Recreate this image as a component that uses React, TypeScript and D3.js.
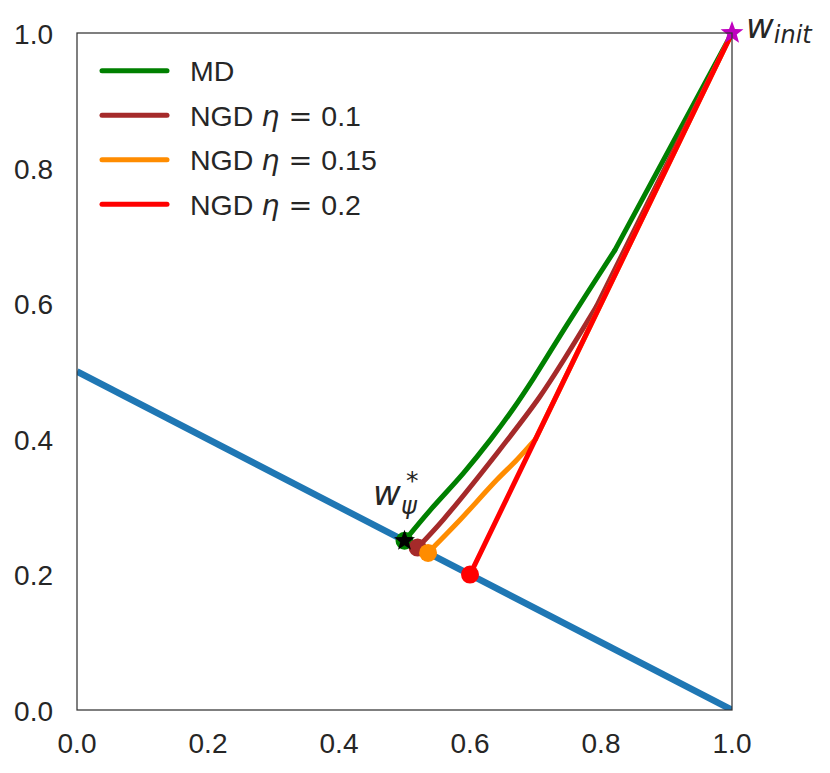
import React from "react";
import * as d3 from "d3";

type P = [number, number];

const xTicks = [0, 0.2, 0.4, 0.6, 0.8, 1.0];
const yTicks = [0, 0.2, 0.4, 0.6, 0.8, 1.0];

const constraintLine: P[] = [[0, 0.5], [1, 0]];

const mdPath: P[] = [[1, 1], [0.821, 0.679], [0.748, 0.569], [0.697, 0.49], [0.666, 0.445], [0.631, 0.399], [0.59, 0.35], [0.539, 0.295], [0.5, 0.25]];
const ngd01Path: P[] = [[1, 1], [0.793, 0.596], [0.745, 0.52], [0.706, 0.462], [0.641, 0.379], [0.559, 0.281], [0.52, 0.24]];
const ngd015Path: P[] = [[1, 1], [0.7, 0.4], [0.672, 0.37], [0.641, 0.34], [0.585, 0.281], [0.554, 0.25], [0.536, 0.232]];
const ngd02Path: P[] = [[1, 1], [0.6, 0.2]];

const seriesNames = ["MD", "NGD η = 0.1", "NGD η = 0.15", "NGD η = 0.2"];
const etaValues = ["", "0.1", "0.15", "0.2"];
const seriesColors = ["#008000", "#a52a2a", "#ff8c00", "#ff0000"];
const seriesPaths = [mdPath, ngd01Path, ngd015Path, ngd02Path];

const wStar: P = [0.5, 0.25];
const wInit: P = [1, 1];

const W = 830, H = 773;
const L = 77, R = 732, T = 33, B = 710;

function starPath(cx: number, cy: number, rOut: number, rIn: number) {
  const pts: string[] = [];
  for (let i = 0; i < 10; i++) {
    const a = -Math.PI / 2 + (i * Math.PI) / 5;
    const r = i % 2 === 0 ? rOut : rIn;
    pts.push(`${cx + r * Math.cos(a)},${cy + r * Math.sin(a)}`);
  }
  return "M" + pts.join("L") + "Z";
}

export default function App() {
  const x = d3.scaleLinear().domain([0, 1]).range([L, R]);
  const y = d3.scaleLinear().domain([0, 1]).range([B, T]);
  const line = d3.line<P>().x((d) => x(d[0])).y((d) => y(d[1]));
  const smooth = d3.line<P>().x((d) => x(d[0])).y((d) => y(d[1])).curve(d3.curveCatmullRom.alpha(0.5));
  const tickFont = "'Liberation Sans', Arial, sans-serif";
  const mathFont = "'DejaVu Sans', sans-serif";
  const txt = "#262626";

  return (
    <svg width={W} height={H} style={{ position: "absolute", left: 0, top: 0 }}>
      <rect x={0} y={0} width={W} height={H} fill="#fff" />
      <defs>
        <clipPath id="clip">
          <rect x={L} y={T} width={R - L} height={B - T} />
        </clipPath>
      </defs>
      <g clipPath="url(#clip)">
        <path d={line(constraintLine) || ""} stroke="#1f77b4" strokeWidth={6.5} fill="none" />
      </g>
      {seriesPaths.map((p, i) => (
        <g key={i} stroke={seriesColors[i]} strokeWidth={5} fill="none" strokeLinecap="round" strokeLinejoin="round">
          <path d={line(p.slice(0, 2)) || ""} />
          {p.length > 2 && <path d={smooth(p.slice(1)) || ""} />}
        </g>
      ))}
      {/* end markers */}
      <circle cx={x(mdPath[mdPath.length - 1][0])} cy={y(mdPath[mdPath.length - 1][1])} r={9} fill={seriesColors[0]} />
      <circle cx={x(ngd01Path[ngd01Path.length - 1][0])} cy={y(ngd01Path[ngd01Path.length - 1][1])} r={9} fill={seriesColors[1]} />
      <circle cx={x(ngd015Path[ngd015Path.length - 1][0])} cy={y(ngd015Path[ngd015Path.length - 1][1])} r={9} fill={seriesColors[2]} />
      <circle cx={x(ngd02Path[ngd02Path.length - 1][0])} cy={y(ngd02Path[ngd02Path.length - 1][1])} r={9} fill={seriesColors[3]} />
      <path d={starPath(x(wStar[0]), y(wStar[1]), 11, 4.5)} fill="#000" />
      <path d={starPath(x(wInit[0]), y(wInit[1]), 12, 5)} fill="#bf00bf" />
      {/* spines */}
      <rect x={L} y={T} width={R - L} height={B - T} fill="none" stroke="#333" strokeWidth={1.25} />
      {/* ticks */}
      {xTicks.map((t) => (
        <text key={"x" + t} x={x(t)} y={B + 43} textAnchor="middle" fontFamily={tickFont} fontSize={28} fill={txt}>
          {t.toFixed(1)}
        </text>
      ))}
      {yTicks.map((t) => (
        <text key={"y" + t} x={53} y={y(t) + 10.5} textAnchor="end" fontFamily={tickFont} fontSize={28} fill={txt}>
          {t.toFixed(1)}
        </text>
      ))}
      {/* legend */}
      {seriesNames.map((n, i) => {
        const ly = 70.7 + i * 44.5;
        return (
          <g key={n}>
            <line x1={102} x2={167} y1={ly} y2={ly} stroke={seriesColors[i]} strokeWidth={5} strokeLinecap="round" />
            {i === 0 ? (
              <text x={190} y={ly + 10.5} fontFamily={tickFont} fontSize={28.5} fill={txt}>MD</text>
            ) : (
              <text x={190} y={ly + 10.5} fontFamily={tickFont} fontSize={28.5} fill={txt}>
                NGD{" "}
                <tspan fontFamily={mathFont} fontStyle="italic">η</tspan>
                <tspan fontFamily={mathFont}> = </tspan>
                {etaValues[i]}
              </text>
            )}
          </g>
        );
      })}
      {/* annotations */}
      <text x={746} y={38} fontFamily={mathFont} fontStyle="italic" fontSize={34} fill={txt}>
        w<tspan fontSize={24} dy={5}>init</tspan>
      </text>
      <text x={373} y={505} fontFamily={mathFont} fontStyle="italic" fontSize={34} fill={txt}>
        w
      </text>
      <text x={406} y={489} fontFamily={mathFont} fontSize={25} fill={txt}>*</text>
      <text x={401} y={514} fontFamily={mathFont} fontStyle="italic" fontSize={24} fill={txt}>ψ</text>
    </svg>
  );
}
